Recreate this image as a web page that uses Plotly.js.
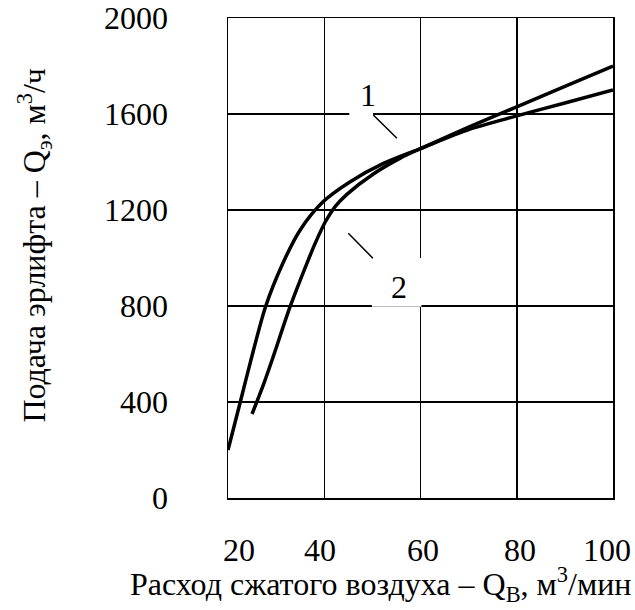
<!DOCTYPE html>
<html>
<head>
<meta charset="utf-8">
<script src="https://cdn.plot.ly/plotly-3.0.1.min.js"></script>
<style>html,body{margin:0;padding:0;background:#fff;}#chart{width:635px;height:610px;}</style>
</head>
<body>
<div id="chart"></div>
<script>
// Curve 1 (steeper at start)
const curve1X = [20, 22.5, 24.6, 27.8, 31.4, 35, 39.8, 45.4, 52.3, 60, 70, 80, 90, 100];
const curve1Y = [200, 396, 562, 797, 978, 1117, 1235, 1318, 1394, 1456, 1535, 1592, 1646, 1700];
// Curve 2
const curve2X = [25, 27.5, 29.4, 32.9, 36.4, 38.2, 40.2, 42.3, 44.7, 50.2, 55.8, 60, 70, 80, 90, 100];
const curve2Y = [350, 480, 589, 797, 978, 1065, 1150, 1215, 1265, 1350, 1416, 1456, 1545, 1630, 1715, 1800];

const xTickVals = [20, 40, 60, 80, 100];
const xTickText = ['20', '40', '60', '80', '100'];
const yTickVals = [0, 400, 800, 1200, 1600, 2000];
const yTickText = ['0', '400', '800', '1200', '1600', '2000'];
const curveLabels = ['1', '2'];

const FONT = '"Liberation Serif", "Times New Roman", Times, serif';
const FS = 32;
const xLabelShift = [11, -4, 2, 3, -6];

const traces = [
  {x: curve1X, y: curve1Y, mode: 'lines', line: {color: '#000', width: 3.5, shape: 'spline', smoothing: 0.8}, hoverinfo: 'skip'},
  {x: curve2X, y: curve2Y, mode: 'lines', line: {color: '#000', width: 3.5, shape: 'spline', smoothing: 0.8}, hoverinfo: 'skip'}
];

const annotations = xTickVals.map((v, i) => ({
  x: v, xref: 'x', y: -0.108, yref: 'paper', text: xTickText[i], showarrow: false,
  xanchor: 'center', yanchor: 'middle', xshift: xLabelShift[i], font: {family: FONT, size: FS, color: '#000'}
}));
annotations.push(
  {x: 49.1, y: 1679, xref: 'x', yref: 'y', text: curveLabels[0], showarrow: false, font: {family: FONT, size: FS, color: '#000'}},
  {x: 55.5, y: 880, xref: 'x', yref: 'y', text: curveLabels[1], showarrow: false, font: {family: FONT, size: FS, color: '#000'}},
  {x: 0.395, y: -0.181, xref: 'paper', yref: 'paper', xanchor: 'center', yanchor: 'middle', showarrow: false,
   text: 'Расход сжатого воздуха – Q<sub>B</sub>, м<sup>3</sup>/мин', font: {family: FONT, size: FS, color: '#000'}},
  {x: -0.505, y: 0.527, xref: 'paper', yref: 'paper', xanchor: 'center', yanchor: 'middle', showarrow: false, textangle: -90,
   text: 'Подача эрлифта – Q<sub>э</sub>, м<sup>3</sup>/ч', font: {family: FONT, size: FS, color: '#000'}}
);

const shapes = [
  {type: 'rect', xref: 'x', yref: 'y', x0: 45.2, x1: 50.15, y0: 1596, y1: 1780, fillcolor: '#fff', line: {width: 0}, layer: 'above'},
  {type: 'rect', xref: 'x', yref: 'y', x0: 49.9, x1: 60.2, y0: 797, y1: 1000, fillcolor: '#fff', line: {width: 0}, layer: 'above'},
  {type: 'line', xref: 'x', yref: 'y', x0: 50.2, y0: 1596, x1: 55.1, y1: 1499, line: {color: '#000', width: 1.5}, layer: 'above'},
  {type: 'line', xref: 'x', yref: 'y', x0: 45.0, y0: 1103, x1: 50.1, y1: 999, line: {color: '#000', width: 1.5}, layer: 'above'}
];

const layout = {
  width: 635, height: 610,
  margin: {l: 228, r: 22, t: 18, b: 112},
  paper_bgcolor: '#fff', plot_bgcolor: '#fff',
  showlegend: false,
  font: {family: FONT, size: FS, color: '#000'},
  xaxis: {
    range: [20, 100], tickvals: xTickVals, showticklabels: false, ticks: '',
    showgrid: true, gridcolor: '#000', gridwidth: 1.5,
    showline: true, mirror: true, linecolor: '#000', linewidth: 1.5, zeroline: false, fixedrange: true
  },
  yaxis: {
    range: [0, 2000], tickvals: yTickVals, ticktext: yTickText, ticks: '',
    tickfont: {family: FONT, size: FS, color: '#000'}, ticklabelstandoff: 52,
    showgrid: true, gridcolor: '#000', gridwidth: 1.5,
    showline: true, mirror: true, linecolor: '#000', linewidth: 1.5, zeroline: false, fixedrange: true
  },
  annotations: annotations,
  shapes: shapes
};

Plotly.newPlot('chart', traces, layout, {staticPlot: true, displayModeBar: false});
</script>
</body>
</html>
